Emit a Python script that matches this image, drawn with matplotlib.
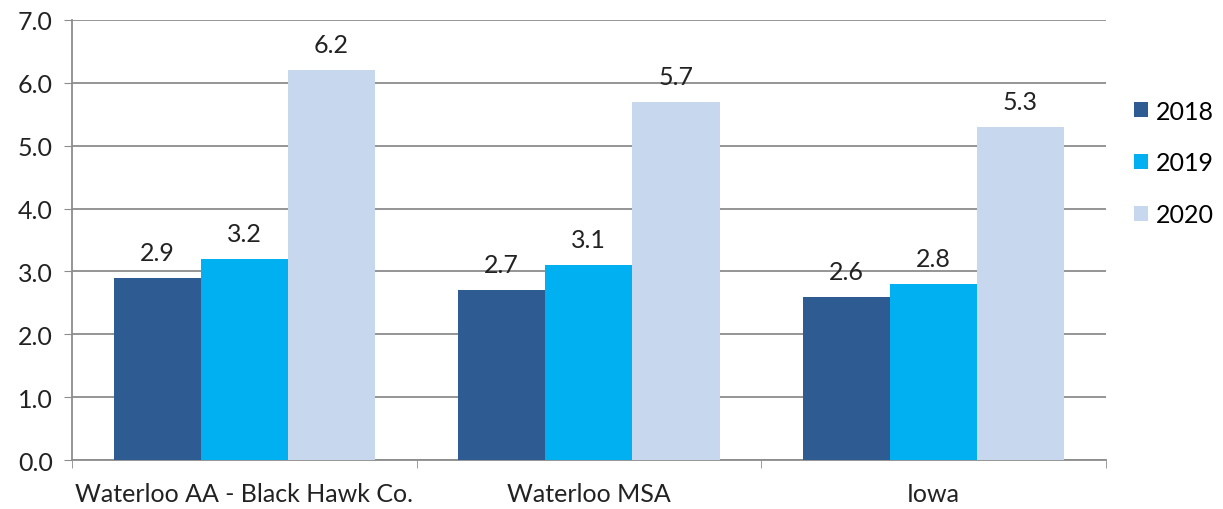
import matplotlib.pyplot as plt
import numpy as np

# Index values by area and year
areas = ['Waterloo AA - Black Hawk Co.', 'Waterloo MSA', 'Iowa']
years = ['2018', '2019', '2020']
v2018 = [2.9, 2.7, 2.6]
v2019 = [3.2, 3.1, 2.8]
v2020 = [6.2, 5.7, 5.3]
yticks = [0, 1, 2, 3, 4, 5, 6, 7]

colors = ['#2E5C92', '#00B0F0', '#C6D7EE']
plt.rcParams['font.family'] = ['Lato', 'DejaVu Sans']

fig = plt.figure(figsize=(12.23, 5.10), dpi=100)
ax = fig.add_axes([0.059, 0.096, 0.845, 0.863])

x = np.arange(len(areas))
w = 0.253
series = [v2018, v2019, v2020]
for i, (vals, c, yr) in enumerate(zip(series, colors, years)):
    bars = ax.bar(x + (i - 1) * w, vals, width=w, color=c, label=yr, zorder=3)
    ax.bar_label(bars, labels=[f'{v:.1f}' for v in vals], padding=10,
                 fontsize=18, color='#222222')

ax.set_ylim(0, 7)
ax.set_xlim(-0.5, 2.5)
ax.set_yticks(yticks)
ax.set_yticklabels([f'{t:.1f}' for t in yticks], fontsize=18, color='#222222')
ax.yaxis.grid(True, color='#8c8c8c', linewidth=1.3, zorder=0)
ax.tick_params(axis='y', length=6, color='#8c8c8c', pad=8)

# category labels at centres, tick marks at group boundaries
ax.set_xticks(x)
ax.set_xticklabels(areas, fontsize=18, color='#222222')
ax.set_xticks([-0.5, 0.5, 1.5, 2.5], minor=True)
ax.tick_params(axis='x', which='major', length=0, pad=16)
ax.tick_params(axis='x', which='minor', length=6, color='#8c8c8c')

for s in ['top', 'right']:
    ax.spines[s].set_visible(False)
for s in ['left', 'bottom']:
    ax.spines[s].set_color('#8c8c8c')
    ax.spines[s].set_linewidth(1.3)

ax.legend(loc='center left', bbox_to_anchor=(1.006, 0.675), frameon=False,
          fontsize=18, handlelength=0.55, handleheight=0.55, handletextpad=0.3,
          labelspacing=1.15)

fig.savefig('out.png', dpi=100)
